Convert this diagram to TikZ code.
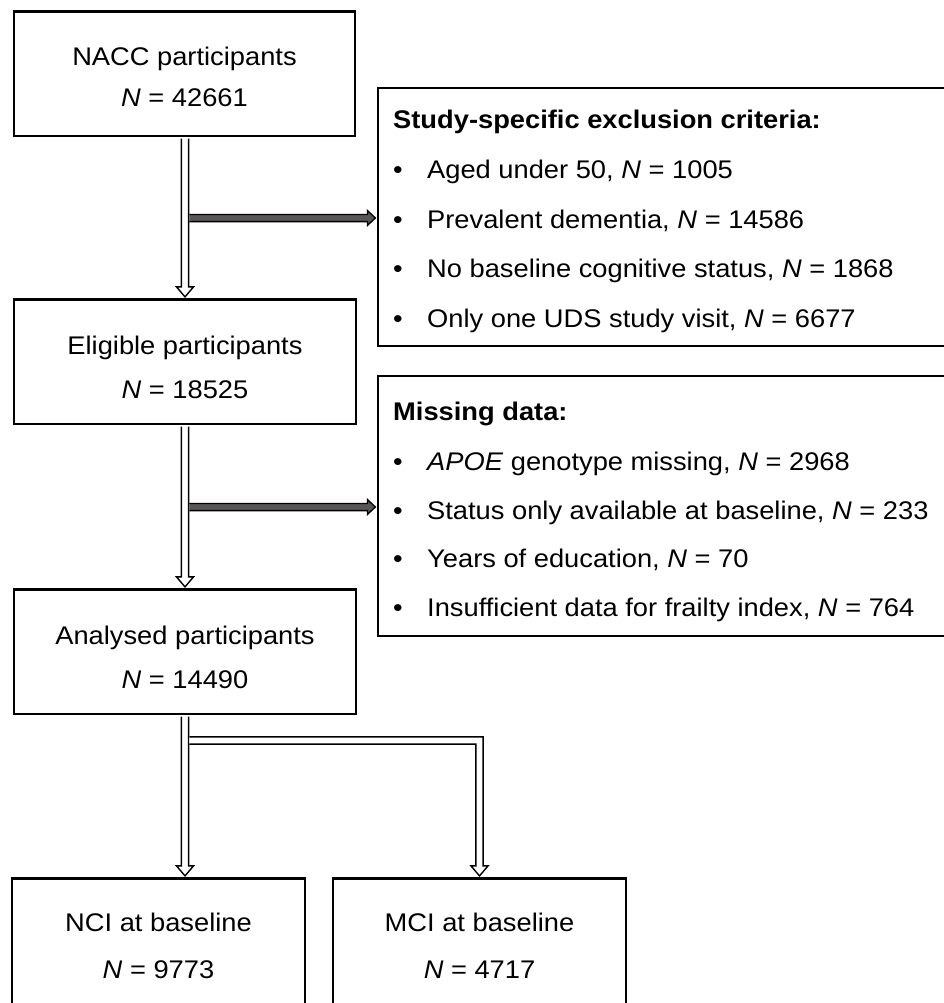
\documentclass[tikz,border=0pt]{standalone}
\usepackage{fontspec}
\setmainfont{Liberation Sans}[FakeStretch=1.07]
\usetikzlibrary{calc}
\definecolor{arrowgrey}{RGB}{89,86,86}
\newcommand\hollowdown[2]{%
  \path[hollow] ($#1+(-3.6,0)$) -- ($#2+(-3.6,-10)$) -- ($#2+(-8.5,-10)$) -- #2
    -- ($#2+(8.5,-10)$) -- ($#2+(3.6,-10)$) -- ($#1+(3.6,0)$);}
\newcommand\greyright[2]{%
  \path[greyarr] ($#1+(0,-3.6)$) -- ($#2+(-8,-3.6)$) -- ($#2+(-8,-7.5)$) -- #2
    -- ($#2+(-8,7.5)$) -- ($#2+(-8,3.6)$) -- ($#1+(0,3.6)$);}
\begin{document}
\begin{tikzpicture}[x=1pt,y=-1pt,
  box/.style={draw=black, line width=2.6pt, fill=white, inner sep=0pt, rectangle},
  lbl/.style={font=\fontsize{25.5}{30}\selectfont, inner sep=0pt, anchor=base},
  lst/.style={font=\fontsize{25.5}{30}\selectfont, inner sep=0pt, anchor=base west},
  hollow/.style={draw=black, fill=white, line width=1.4pt, line join=miter},
  greyarr/.style={draw=black, fill=arrowgrey, line width=1.3pt, line join=miter}]
\useasboundingbox (0,0) rectangle (944,1003);
\clip (0,0) rectangle (944,1003);
\fill[white] (0,0) rectangle (944,1003);

% main boxes
\node[box, minimum width=341pt, minimum height=124.5pt] (nacc) at (184.5,73.75) {};
\node[box, minimum width=342pt, minimum height=124.5pt] (elig) at (185,361.75) {};
\node[box, minimum width=342pt, minimum height=124.5pt] (anal) at (185,651.75) {};
\node[box, minimum width=293pt, minimum height=151.5pt] (nci) at (158.5,954.25) {};
\node[box, minimum width=293pt, minimum height=151.5pt] (mci) at (479.5,954.25) {};
\node[box, minimum width=602pt, minimum height=258pt] (excl) at (679,217) {};
\node[box, minimum width=602pt, minimum height=260pt] (miss) at (679,506) {};

% box texts
\node[lbl] (t1a) at (184.5,66) {NACC participants};
\node[lbl] (t1b) at (184.5,107) {\textit{N} = 42661};
\node[lbl] (t2a) at (185,354) {Eligible participants};
\node[lbl] (t2b) at (185,398.5) {\textit{N} = 18525};
\node[lbl] (t3a) at (185,644) {Analysed participants};
\node[lbl] (t3b) at (185,688.5) {\textit{N} = 14490};
\node[lbl] (t4a) at (158.5,931) {NCI at baseline};
\node[lbl] (t4b) at (158.5,978.5) {\textit{N} = 9773};
\node[lbl] (t5a) at (479.5,931) {MCI at baseline};
\node[lbl] (t5b) at (479.5,978.5) {\textit{N} = 4717};

% exclusion list
\node[lst] (eh) at (393,128.5) {\textbf{Study-specific exclusion criteria:}};
\node[lst] (e1d) at (393,178.5) {•};
\node[lst] (e1) at (427,178.5) {Aged under 50, \textit{N} = 1005};
\node[lst] (e2d) at (393,228) {•};
\node[lst] (e2) at (427,228) {Prevalent dementia, \textit{N} = 14586};
\node[lst] (e3d) at (393,277.5) {•};
\node[lst] (e3) at (427,277.5) {No baseline cognitive status, \textit{N} = 1868};
\node[lst] (e4d) at (393,327) {•};
\node[lst] (e4) at (427,327) {Only one UDS study visit, \textit{N} = 6677};

% missing list
\node[lst] (mh) at (393,420.5) {\textbf{Missing data:}};
\node[lst] (m1d) at (393,470.5) {•};
\node[lst] (m1) at (427,470.5) {\textit{APOE} genotype missing, \textit{N} = 2968};
\node[lst] (m2d) at (393,519) {•};
\node[lst] (m2) at (427,519) {Status only available at baseline, \textit{N} = 233};
\node[lst] (m3d) at (393,567.5) {•};
\node[lst] (m3) at (427,567.5) {Years of education, \textit{N} = 70};
\node[lst] (m4d) at (393,616.5) {•};
\node[lst] (m4) at (427,616.5) {Insufficient data for frailty index, \textit{N} = 764};

% connectors
\coordinate (spine) at (185,0);
\coordinate (br) at (0,740.5);
\hollowdown{($(nacc.south -| spine)+(0,1.3)$)}{($(elig.north -| spine)+(0,-1.3)$)}
\hollowdown{($(elig.south -| spine)+(0,1.3)$)}{($(anal.north -| spine)+(0,-1.3)$)}
\hollowdown{($(anal.south -| spine)+(0,1.3)$)}{($(nci.north -| spine)+(0,-1.3)$)}
\path[hollow] ($(spine |- br)+(4.3,-3.6)$) -- ($(mci.north |- br)+(3.6,-3.6)$)
  -- ($(mci.north)+(3.6,-11.3)$) -- ($(mci.north)+(8.5,-11.3)$) -- ($(mci.north)+(0,-1.3)$)
  -- ($(mci.north)+(-8.5,-11.3)$) -- ($(mci.north)+(-3.6,-11.3)$)
  -- ($(mci.north |- br)+(-3.6,3.6)$) -- ($(spine |- br)+(4.3,3.6)$);
\greyright{($(spine |- excl.west)+(4.3,1)$)}{($(excl.west)+(-1.3,1)$)}
\greyright{($(spine |- miss.west)+(4.3,1)$)}{($(miss.west)+(-1.3,1)$)}
\end{tikzpicture}
\end{document}
